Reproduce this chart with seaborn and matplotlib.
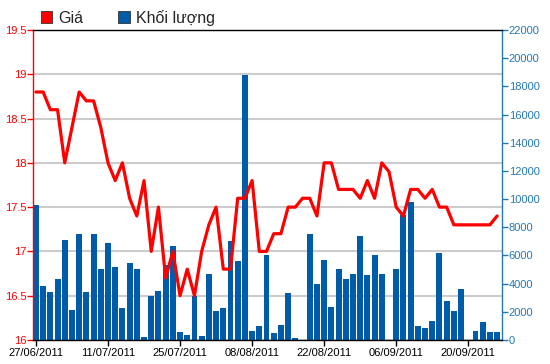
import matplotlib
matplotlib.use("Agg")
import matplotlib.pyplot as plt
from matplotlib.patches import Patch
import pandas as pd
import seaborn as sns

# trading-day index (27/06/2011 .. 27/09/2011) with price and volume
days = list(range(65))
price = [18.8, 18.8, 18.6, 18.6, 18.0, 18.4, 18.8, 18.7, 18.7, 18.4,
         18.0, 17.8, 18.0, 17.6, 17.4, 17.8, 17.0, 17.5, 16.7, 17.0,
         16.5, 16.8, 16.5, 17.0, 17.3, 17.5, 16.8, 16.8, 17.6, 17.6,
         17.8, 17.0, 17.0, 17.2, 17.2, 17.5, 17.5, 17.6, 17.6, 17.4,
         18.0, 18.0, 17.7, 17.7, 17.7, 17.6, 17.8, 17.6, 18.0, 17.9,
         17.5, 17.4, 17.7, 17.7, 17.6, 17.7, 17.5, 17.5, 17.3, 17.3,
         17.3, 17.3, 17.3, 17.3, 17.4]
volume = [9550, 3800, 3400, 4300, 7100, 2150, 7500, 3400, 7500, 5050,
          6900, 5150, 2300, 5450, 5050, 200, 3100, 3450, 5350, 6650,
          550, 380, 3100, 250, 4700, 2050, 2300, 7050, 5600, 18800,
          650, 1000, 6000, 480, 1080, 3350, 120, 0, 7500, 4000,
          5700, 2350, 5050, 4300, 4700, 7350, 4600, 6000, 4700, 0,
          5050, 8900, 9800, 960, 880, 1320, 6200, 2750, 2050, 3600,
          0, 620, 1250, 540, 540]
tick_days = [0, 10, 20, 30, 40, 50, 60]
tick_labels = ['27/06/2011', '11/07/2011', '25/07/2011', '08/08/2011',
               '22/08/2011', '06/09/2011', '20/09/2011']
price_ticks = [16, 16.5, 17, 17.5, 18, 18.5, 19, 19.5]
volume_ticks = list(range(0, 22001, 2000))

df = pd.DataFrame({'day': days, 'price': price, 'volume': volume})

sns.set_theme(style="white")
plt.rcParams['font.family'] = ['Liberation Sans', 'DejaVu Sans']

RED = '#ff0000'
BLUE = '#2479b4'
BAR = '#005ba9'

fig = plt.figure(figsize=(5.5, 3.64), dpi=100)
ax = fig.add_axes([0.0605, 0.066, 0.8517, 0.8516])
vol = ax.twinx()
line_ax = ax.twinx()

# volume bars
sns.barplot(data=df, x='day', y='volume', native_scale=True, width=0.82,
            color=BAR, saturation=1, linewidth=0, ax=vol)

# price line
sns.lineplot(data=df, x='day', y='price', color=RED, linewidth=2.3, ax=line_ax)

xlim = (-0.37, 64.64)
ylim = (16, 19.5)
for a in (ax, vol, line_ax):
    a.set_xlim(*xlim)
    a.set_xlabel('')
    a.set_ylabel('')
ax.set_ylim(*ylim)
line_ax.set_ylim(*ylim)
line_ax.axis('off')
vol.set_ylim(0, 22000)

# left price axis + grid
ax.set_yticks(price_ticks)
ax.set_yticklabels([f'{t:g}' for t in price_ticks])
ax.grid(axis='y', color='#cccccc', linewidth=1.5)
ax.grid(axis='x', visible=False)
ax.tick_params(axis='y', colors=RED, labelsize=8, length=4, width=1, pad=1,
               direction='out', left=True)
ax.set_xticks(tick_days)
ax.set_xticklabels(tick_labels)
ax.tick_params(axis='x', colors='black', labelsize=8, length=4, width=1, pad=2,
               direction='out', bottom=True)
for s in ax.spines.values():
    s.set_visible(False)

# right volume axis
vol.set_yticks(volume_ticks)
vol.set_yticklabels([str(t) for t in volume_ticks])
vol.tick_params(axis='y', colors=BLUE, labelsize=8, length=4, width=1, pad=1,
                direction='out', right=True)
vol.grid(False)
vol.spines['left'].set_color(RED)
vol.spines['right'].set_color(BLUE)
vol.spines['top'].set_color('black')
vol.spines['bottom'].set_color('black')
for s in vol.spines.values():
    s.set_visible(True)
    s.set_linewidth(1)

# legend on top
handles = [Patch(facecolor=RED, edgecolor='#333333', linewidth=0.6),
           Patch(facecolor=BAR, edgecolor='#333333', linewidth=0.6)]
fig.legend(handles, ['Giá', 'Khối lượng'], loc='upper left', ncol=2,
           bbox_to_anchor=(0.048, 1.013), frameon=False, fontsize=11.5,
           handlelength=0.7, handleheight=0.7, handletextpad=0.4,
           columnspacing=2.2)

fig.savefig('out.png', dpi=100)
plt.close(fig)
